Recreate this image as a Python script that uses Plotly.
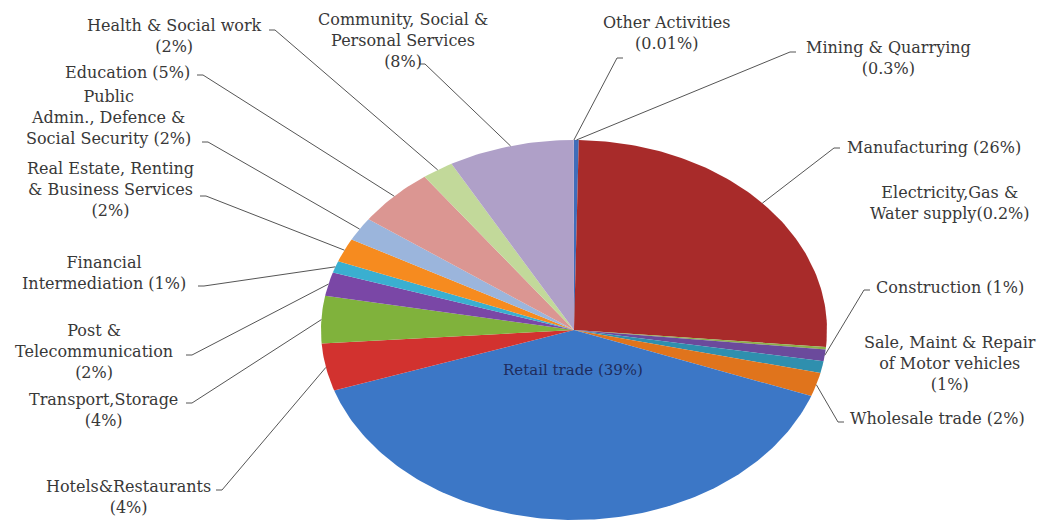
import numpy as np
import plotly.graph_objects as go

# ---------------- data ----------------
categories = [
    "Mining & Quarrying", "Manufacturing", "Electricity,Gas & Water supply",
    "Construction", "Sale, Maint & Repair of Motor vehicles", "Wholesale trade",
    "Retail trade", "Hotels&Restaurants", "Transport,Storage",
    "Post & Telecommunication", "Financial Intermediation",
    "Real Estate, Renting & Business Services",
    "Public Admin., Defence & Social Security", "Education",
    "Health & Social work", "Community, Social & Personal Services",
    "Other Activities",
]
values = [0.3, 26, 0.2, 1, 1, 2, 39, 4, 4, 2, 1, 2, 2, 5, 2, 8, 0.01]
label_texts = [
    "Mining & Quarrying<br>(0.3%)",
    "Manufacturing (26%)",
    "Electricity,Gas &<br>Water supply(0.2%)",
    "Construction (1%)",
    "Sale, Maint & Repair<br>of Motor vehicles<br>(1%)",
    "Wholesale trade (2%)",
    "Retail trade (39%)",
    "Hotels&Restaurants<br>(4%)",
    "Transport,Storage<br>(4%)",
    "Post &<br>Telecommunication<br>(2%)",
    "Financial<br>Intermediation (1%)",
    "Real Estate, Renting<br>& Business Services<br>(2%)",
    "Public<br>Admin., Defence &<br>Social Security (2%)",
    "Education (5%)",
    "Health & Social work<br>(2%)",
    "Community, Social &<br>Personal Services<br>(8%)",
    "Other Activities<br>(0.01%)",
]

# ---------------- styles / layout ----------------
colors = [
    "#3F6DBA", "#A82B2A", "#8CB04A", "#6B4A9C", "#2F8FAE", "#E0741C",
    "#3C77C6", "#D2322F", "#80B23C", "#7A47A6", "#3AAFD0", "#F68B1F",
    "#9BB5DC", "#DB9692", "#C2D99A", "#AFA0C8", "#8FD0E3",
]
# pie geometry in pixel coordinates
CX, CY, RX, RY = 574, 330, 253, 190
# label block centres (x, y) and leader start points (None = no leader)
label_pos = [
    (888, 58), (934, 147), (950, 203), (950, 287), (950, 363), (937, 418),
    (573, 370), (128, 497), (103, 410), (94, 351), (104, 273), (110, 189),
    (108, 117), (127, 72), (174, 36), (403, 40), (667, 33),
]
leader_start = [
    (790, 52), (834, 148), None, (864, 290), None, (838, 422),
    None, (222, 490), (192, 403), (192, 355), (204, 286), (206, 196),
    (208, 142), (203, 75), (275, 30), (425, 64), (617, 58),
]

total = float(sum(values))
fracs = np.array(values) / total
ends = np.cumsum(fracs) * 2 * np.pi
starts = ends - fracs * 2 * np.pi


def ell(theta):
    return CX + RX * np.sin(theta), CY - RY * np.cos(theta)


fig = go.Figure()

for i, (a0, a1) in enumerate(zip(starts, ends)):
    n = max(3, int(np.ceil((a1 - a0) / (2 * np.pi) * 360)))
    th = np.linspace(a0, a1, n)
    ex, ey = ell(th)
    xs = np.concatenate([[CX], ex, [CX]])
    ys = np.concatenate([[CY], ey, [CY]])
    fig.add_trace(go.Scatter(
        x=xs, y=ys, mode="lines", fill="toself", fillcolor=colors[i],
        line=dict(width=0, color=colors[i]), hoverinfo="text",
        text=categories[i], showlegend=False,
    ))

# leader lines
lx, ly = [], []
for i, s in enumerate(leader_start):
    if s is None:
        continue
    mid = (starts[i] + ends[i]) / 2
    px, py = ell(mid)
    tick = 6 if s[0] < px else -6
    lx += [s[0] - tick, s[0], float(px), None]
    ly += [s[1], s[1], float(py), None]
fig.add_trace(go.Scatter(x=lx, y=ly, mode="lines",
                         line=dict(color="#555555", width=1),
                         hoverinfo="skip", showlegend=False))

for i, t in enumerate(label_texts):
    x, y = label_pos[i]
    is_inside = categories[i] == "Retail trade"
    fig.add_annotation(
        x=x, y=y, xref="x", yref="y", text=t, showarrow=False,
        xanchor="center", yanchor="middle", align="center",
        font=dict(family="DejaVu Serif", size=16 if not is_inside else 15,
                  color="#1F2C5C" if is_inside else "#383838"),
    )

fig.update_layout(
    width=1038, height=522,
    margin=dict(l=0, r=0, t=0, b=0),
    paper_bgcolor="white", plot_bgcolor="white",
    xaxis=dict(range=[0, 1038], visible=False, fixedrange=True),
    yaxis=dict(range=[522, 0], visible=False, fixedrange=True),
)

fig.write_html("out.html")
